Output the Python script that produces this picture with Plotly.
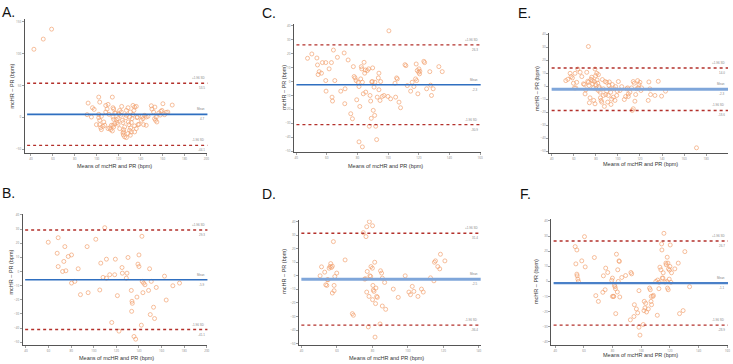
import plotly.graph_objects as go

# ---------------- data ----------------
a_x = [42.7, 51.2, 58.8, 92.1, 91.2, 95.1, 96.1, 97.6, 101.8, 102.7, 101.8, 101.8, 102.7, 99.7, 103.6, 104.2, 105.7,
       108.2, 109.4, 108.2, 110.3, 111.2, 111.8, 112.7, 114.2, 114.8, 115.4, 116.4, 114.8, 115.4, 116.4, 114.8, 114.2,
       119.4, 120.9, 121.8, 122.4, 122.7, 123.3, 123.9, 124.5, 125.4, 124.2, 125.4, 126.4, 127.0, 127.0, 128.5, 128.8,
       129.4, 130.0, 130.6, 130.9, 131.5, 132.1, 133.0, 133.9, 134.5, 134.5, 136.0, 136.7, 137.6, 133.0, 136.0, 137.0,
       130.0, 131.5, 130.6, 134.5, 138.5, 140.6, 142.1, 142.7, 145.1, 143.6, 141.5, 149.7, 150.3, 151.8, 153.0, 154.2,
       154.8, 156.6, 157.9, 158.5, 159.4, 160.3, 161.8, 163.3, 164.8, 168.8, 145.1, 146.7, 152.7, 153.6, 123.9, 127.0,
       128.5, 124.5, 117.9, 118.5, 119.4, 115.4, 113.3, 110.3, 107.3, 106.4, 102.7, 104.2, 117.3, 120.3, 120.9]
a_y = [107.0, 123.0, 138.6, 22.4, 4.2, 0.5, 15.1, 12.5, 31.8, 23.9, 4.7, -0.5, -11.5, -11.5, -16.1, -19.3, -14.1,
       8.3, 13.0, 18.7, 20.3, 4.7, -16.7, -19.3, 31.8, 15.1, 13.0, 6.8, 0.5, -3.1, -9.9, -12.5, -21.4,
       -2.1, -17.7, 3.1, 8.3, 17.2, -4.7, -8.3, -22.9, -30.7, -27.6, -15.1, -0.5, 3.1, 10.9, 15.1, -7.3,
       -11.5, -20.3, 8.3, -16.7, -8.3, -2.1, 18.7, 10.9, -13.5, -22.9, -17.7, -0.5, -11.5, 4.2, 17.2, 0.5,
       0.5, -22.9, -28.1, 16.1, -10.9, -4.7, -2.1, -11.5, -12.5, 3.1, 1.6, 18.2, 13.0, 8.3, 16.1, 0.5,
       -7.3, 6.8, 3.6, 9.4, 10.9, 21.4, 4.2, 7.8, 8.3, 19.3, 0.5, 1.6, -2.1, -4.7, -24.5, -31.8,
       -25.5, -19.3, -3.6, -8.3, -10.9, -15.1, -12.5, -17.7, -12.5, -7.3, -4.7, 1.6, 6.8, 5.2, 10.9]

b_x = [59.7, 67.6, 68.5, 68.5, 72.4, 73.5, 74.4, 75.3, 77.4, 80.3, 80.3, 83.2, 86.2, 88.2, 95.0, 94.1, 101.8, 105.3,
       106.2, 108.2, 109.7, 111.2, 114.1, 118.5, 119.1, 120.9, 115.9, 122.3, 125.0, 125.3, 129.4, 130.3, 133.2, 133.5,
       133.8, 134.1, 135.6, 137.1, 138.2, 139.1, 140.0, 140.0, 142.1, 142.6, 142.9, 143.5, 144.1, 145.3, 148.5, 149.4,
       150.0, 150.9, 152.9, 153.8, 155.3, 162.6, 164.1, 170.0, 175.9, 111.2, 128.8]
b_y = [20.7, 12.9, 23.9, 3.5, 0.0, 7.1, 17.6, 0.5, 10.6, -8.2, 11.7, -7.0, 1.9, -16.4, -15.0, 17.6, 22.8, -13.1,
       5.9, -4.2, 31.0, 8.7, -2.3, -2.3, 8.7, -17.1, -36.1, -42.2, 2.8, -1.2, -1.2, 9.9, -13.4, -28.2,
       -21.1, -22.5, -46.0, -47.9, -18.1, 5.2, 3.5, 11.7, -38.0, 24.9, -7.0, -15.0, -8.2, -9.4, -13.4, 1.9,
       -30.5, -7.0, -25.3, -33.3, -11.3, -3.3, -20.2, -10.1, -8.2, -4.7, -4.7]

c_x = [47.4, 50.2, 53.5, 53.9, 54.3, 55.0, 56.5, 57.1, 59.3, 59.3, 59.5, 61.5, 63.0, 63.4, 63.7, 64.3, 65.2, 66.9,
       69.1, 71.3, 71.9, 71.7, 73.9, 75.6, 76.7, 77.3, 77.8, 78.4, 79.1, 79.5, 80.4, 81.0, 81.5, 82.1, 82.5, 82.8,
       83.8, 84.3, 84.7, 85.1, 85.4, 86.4, 87.3, 87.7, 88.2, 88.6, 89.0, 89.3, 89.7, 89.9, 90.3, 90.8, 91.2, 91.4,
       91.9, 92.9, 93.6, 94.0, 94.7, 95.1, 96.2, 92.5, 81.0, 83.2, 99.9, 100.5, 104.5, 104.9, 105.5, 106.0, 107.1,
       108.1, 111.0, 111.6, 112.5, 114.7, 115.7, 116.8, 117.9, 118.3, 118.6, 119.0, 119.4, 119.9, 120.1, 120.5,
       120.7, 123.3, 123.8, 125.1, 127.2, 127.7, 128.3, 129.4, 133.1, 135.3, 94.0, 83.2, 97.3, 101.6]
c_y = [16.7, 19.8, 16.9, 11.9, 5.0, 7.1, 6.0, 13.6, 13.6, 0.7, -6.9, 9.1, 13.6, -11.2, -14.0, 22.6, 0.7, 17.4,
       -6.9, 20.5, -5.2, -15.9, 15.5, -23.1, -26.7, 10.7, 3.6, 2.6, 0.7, -13.1, -0.5, -3.6, -17.9, 1.9, 10.7, 9.1,
       -8.8, 13.8, 6.0, 8.3, -7.6, 7.9, 9.1, -32.1, -10.0, -14.0, -26.4, -0.2, 0.0, 9.8, -20.7, -4.0, -24.3, -0.5,
       -32.1, -11.2, 2.6, -5.9, -13.6, 0.0, -10.7, -41.7, -43.3, -46.9, -10.7, 36.4, -1.2, -11.2, 2.6, 1.9, -14.8,
       -18.8, 12.1, 11.4, -2.9, -6.9, -0.5, -3.6, 1.9, 12.6, 0.7, 7.9, -8.8, 6.7, 9.1, 5.5,
       7.4, 14.5, 13.6, -5.2, 7.1, -2.6, -10.0, -5.2, 10.7, 7.1, 6.0, -0.5, -10.0, -12.4]

d_x = [50.5, 51.3, 53.1, 53.7, 54.3, 54.6, 55.0, 55.6, 56.1, 56.5, 56.9, 57.4, 57.4, 58.0, 58.4, 58.4, 58.8, 59.9,
       64.6, 68.7, 69.3, 74.9, 75.6, 76.2, 76.4, 76.8, 76.8, 77.1, 77.7, 78.1, 78.3, 78.6, 79.2, 80.0, 80.1, 80.1,
       80.3, 80.5, 80.9, 81.3, 81.5, 81.8, 82.4, 82.8, 84.3, 84.6, 85.2, 85.6, 85.6, 86.9, 87.5, 91.8, 94.6, 98.5,
       100.6, 101.5, 102.5, 103.4, 105.7, 107.7, 108.7, 112.8, 114.7, 115.0, 115.6, 116.9, 118.0, 118.4, 120.9,
       79.0, 82.0]
d_y = [0.0, 6.6, 2.7, -6.6, -7.1, -2.9, -2.9, 5.6, 6.8, 9.0, 6.1, 7.1, -12.7, 25.2, -7.1, -11.0, -0.5, 2.0,
       11.7, -27.9, -29.1, 31.8, -2.4, -2.2, 28.9, 36.2, -12.0, 3.2, -37.7, -15.2, 39.9, 0.0, 6.8, 5.6, 36.9, -17.6,
       -7.1, -10.5, -11.5, 10.0, -45.2, -20.5, -15.2, -15.9, -35.5, 3.7, 2.0, -1.7, -22.3, -4.9, -24.7, -9.8, -15.9, 0.0,
       -12.0, -13.9, -7.8, -11.5, -15.2, -9.8, -12.0, -1.5, -3.7, 10.0, 11.0, 6.8, 5.1, 15.9, 11.0,
       -0.5, -9.0]

e_x = [73.2, 171.3, 52.7, 54.5, 56.6, 57.5, 58.7, 59.6, 60.5, 61.7, 62.6, 63.6, 65.7, 68.7, 69.6, 70.2, 70.8, 71.7,
       72.6, 73.2, 73.8, 74.1, 74.7, 75.6, 76.2, 76.8, 77.1, 77.7, 78.0, 78.6, 79.2, 79.2, 79.8, 79.8, 80.1, 80.8,
       81.1, 81.7, 82.3, 82.3, 82.9, 83.2, 83.8, 84.1, 84.7, 85.3, 85.9, 86.8, 87.7, 88.3, 88.9, 89.8, 90.7, 91.3,
       91.9, 92.2, 92.8, 93.4, 93.7, 94.3, 94.9, 95.8, 96.7, 97.3, 97.9, 98.9, 99.5, 100.4, 105.8, 107.0, 107.9,
       108.8, 109.4, 110.9, 112.4, 113.9, 114.8, 115.4, 116.1, 117.0, 117.9, 118.5, 119.1, 120.0, 120.9, 121.5,
       113.9, 113.0, 127.5, 128.1, 129.0, 129.6, 133.6, 136.6, 139.6, 143.2, 61.1, 67.2, 86.8, 89.8, 109.4, 103.4, 101.9]
e_y = [30.5, -47.3, 4.3, 5.3, 9.9, 7.4, 6.4, 2.3, -1.3, -1.3, 3.0, 13.2, 10.7, 1.8, 1.3, -5.9, -2.8, 10.7,
       3.8, 3.0, 0.5, -12.7, -8.9, 5.3, 6.9, 4.3, 1.8, -1.3, -10.9, 3.6, 13.2, -13.5, 1.3, 8.1, -2.0, 9.9,
       4.8, 2.3, 8.9, -3.3, -0.3, -1.3, -4.6, -8.9, -10.9, -12.2, 5.1, -7.1, -15.5, 3.6, -6.4, 3.0, -12.2, -7.1,
       0.5, 3.3, -2.0, -4.6, -14.0, -9.9, 1.3, -8.4, -2.0, -10.9, -0.3, -7.1, -3.8, 3.6, -10.2, -7.9, -2.0,
       -1.3, -7.9, -4.6, -1.3, 3.6, 2.3, -11.5, -6.4, -2.0, 4.3, -1.3, 1.3, 3.0, -3.3, -1.3,
       -17.3, -18.6, -10.9, 3.3, -2.0, -6.4, -7.1, 3.8, -7.6, -3.8, 9.9, 7.4, -2.0, -3.8, -5.9, -0.3, -3.3]

f_x = [53.9, 54.4, 55.1, 55.1, 55.3, 55.8, 56.2, 58.5, 60.4, 60.9, 67.3, 68.3, 70.1, 73.2, 73.6, 74.8, 75.2, 76.6,
       79.4, 79.9, 79.9, 80.6, 81.3, 81.7, 82.0, 82.2, 82.7, 83.3, 83.6, 84.5, 84.7, 85.0, 86.4, 89.1, 92.4, 92.8,
       93.3, 94.9, 95.2, 96.6, 97.5, 98.4, 98.4, 99.1, 101.4, 101.9, 102.1, 102.6, 103.1, 103.7, 104.9, 105.8, 106.3,
       106.8, 107.0, 107.2, 108.2, 108.4, 110.2, 111.2, 111.4, 112.3, 112.5, 113.0, 113.7, 114.2, 114.4, 114.6, 115.1,
       115.3, 115.8, 116.5, 117.2, 117.4, 117.9, 118.1, 118.3, 118.6, 118.8, 119.0, 119.5, 119.7, 120.0, 120.2, 120.7,
       121.1, 123.4, 125.8, 126.7, 129.2, 130.4, 133.7, 80.8, 84.0]
f_y = [23.0, 11.6, 20.8, 4.8, 3.7, 1.5, 0.0, 13.6, 29.6, 9.6, 15.8, -9.4, -13.2, -7.2, 3.7, -5.5, 8.8, 5.9,
       0.7, 2.2, -9.9, -9.9, -2.6, -3.5, -4.8, -21.3, 18.0, -7.0, 7.7, 13.6, 13.2, -10.3, 2.6, 3.9, -25.4, 5.9,
       5.0, -23.2, -15.4, -18.2, -20.8, -6.1, -30.3, -35.5, -28.5, -19.3, -13.2, -17.5, -14.5, -20.2, -18.2, -4.4, -5.5,
       -13.2, -9.9, -15.4, -9.9, -9.2, 0.0, -22.4, 0.9, -4.8, -0.6, 9.4, 7.7, 24.8, 20.8, 2.2, 2.2,
       5.7, 31.8, -0.4, 12.1, 11.0, 0.0, 16.0, -4.4, 12.1, -5.5, 8.3, 1.5, 7.5, 9.9, 24.1, -0.6,
       5.7, 8.3, 12.1, -21.3, -19.3, 19.7, -3.5, -9.9, 0.0]

# limits of agreement: (upper +1.96 SD, mean, lower -1.96 SD)
a_limits = [53.5, 4.7, -44.1]
b_limits = [29.3, -5.9, -41.1]
c_limits = [26.3, -2.3, -30.9]
d_limits = [31.4, -2.5, -36.4]
e_limits = [14.0, -2.3, -18.6]
f_limits = [26.7, -1.1, -28.9]

# tick values
a_xticks = [40, 60, 80, 100, 120, 140, 160, 180, 200]
a_yticks = [-50, 0, 50, 100, 150]
b_xticks = [40, 60, 80, 100, 120, 140, 160, 180, 200]
b_yticks = [-50, -40, -30, -20, -10, 0, 10, 20, 30, 40]
c_xticks = [40, 60, 80, 100, 120, 140, 160]
c_yticks = [-50, -40, -30, -20, -10, 0, 10, 20, 30, 40]
d_xticks = [40, 60, 80, 100, 120, 140]
d_yticks = [-50, -40, -30, -20, -10, 0, 10, 20, 30, 40]
e_xticks = [40, 60, 80, 100, 120, 140, 160, 180, 200]
e_yticks = [-50, -40, -30, -20, -10, 0, 10, 20, 30, 40]
f_xticks = [40, 60, 80, 100, 120, 140, 160]
f_yticks = [-40, -30, -20, -10, 0, 10, 20, 30, 40]

x_title = "Means of mcHR and PR (bpm)"
y_title = "mcHR – PR (bpm)"

# ---------------- layout / style ----------------
W, H = 733, 364

panels = [
    dict(letter="A.", x=a_x, y=a_y, lim=a_limits, xt=a_xticks, yt=a_yticks,
         px=(25, 208), py=(18, 153), xr=(34.5, 200.9), yr=(-56.3, 154.7),
         ytl=(12, 85), xtl=(115, 166), let=(0, 1), mc="#2f6fc0", mw=1.6),
    dict(letter="B.", x=b_x, y=b_y, lim=b_limits, xt=b_xticks, yt=b_yticks,
         px=(23, 208), py=(214, 346), xr=(37.3, 200.6), yr=(-52.1, 40.8),
         ytl=(11, 272), xtl=(117, 359), let=(0, 183), mc="#2f6fc0", mw=1.6),
    dict(letter="C.", x=c_x, y=c_y, lim=c_limits, xt=c_xticks, yt=c_yticks,
         px=(295, 482), py=(23, 152), xr=(38.7, 160.4), yr=(-50.7, 41.4),
         ytl=(284, 87), xtl=(387, 166), let=(261, 2), mc="#2f6fc0", mw=1.6),
    dict(letter="D.", x=d_x, y=d_y, lim=d_limits, xt=d_xticks, yt=d_yticks,
         px=(300, 482), py=(220, 346), xr=(38.7, 141.1), yr=(-51.1, 41.3),
         ytl=(284, 272), xtl=(388, 359), let=(261, 184), mc="#7fa6da", mw=3),
    dict(letter="E.", x=e_x, y=e_y, lim=e_limits, xt=e_xticks, yt=e_yticks,
         px=(551, 730), py=(32, 153), xr=(37.9, 199.9), yr=(-51.4, 41.0),
         ytl=(538, 88), xtl=(642, 164), let=(517, 2), mc="#7fa6da", mw=3),
    dict(letter="F.", x=f_x, y=f_y, lim=f_limits, xt=f_xticks, yt=f_yticks,
         px=(553, 730), py=(219, 346), xr=(37.4, 160.5), yr=(-42.1, 41.4),
         ytl=(538, 282), xtl=(642, 356), let=(519, 184), mc="#4a80c8", mw=2.2),
]

fig = go.Figure()
shapes, annotations = [], []
layout_axes = {}

loa_color = "#b3302b"
font_family = "Arial, Liberation Sans, sans-serif"
label_font = dict(size=3, color="#888888", family=font_family)

for i, p in enumerate(panels, start=1):
    xa = "x" if i == 1 else f"x{i}"
    ya = "y" if i == 1 else f"y{i}"
    xkey = "xaxis" if i == 1 else f"xaxis{i}"
    ykey = "yaxis" if i == 1 else f"yaxis{i}"

    fig.add_trace(go.Scatter(
        x=p["x"], y=p["y"], mode="markers", xaxis=xa, yaxis=ya, showlegend=False,
        marker=dict(symbol="circle-open", size=4, color="rgba(242,160,110,0.85)",
                    line=dict(width=0.8, color="rgba(242,160,110,0.85)")),
    ))

    common = dict(showline=True, linecolor="#555555", linewidth=1.2, showgrid=False, zeroline=False,
                  ticks="outside", ticklen=2, tickwidth=0.7, tickcolor="#777777",
                  tickfont=dict(size=3, color="#888888"), fixedrange=True)
    layout_axes[xkey] = dict(common, domain=[p["px"][0] / W, p["px"][1] / W], range=list(p["xr"]),
                             tickvals=p["xt"], anchor=ya)
    layout_axes[ykey] = dict(common, domain=[1 - p["py"][1] / H, 1 - p["py"][0] / H], range=list(p["yr"]),
                             tickvals=p["yt"], anchor=xa)

    up, mean, lo = p["lim"]
    for val, col, w, dash in [(up, loa_color, 1.4, "dot"), (lo, loa_color, 1.4, "dot"),
                              (mean, p["mc"], p["mw"], "solid")]:
        shapes.append(dict(type="line", xref=f"{xa} domain", yref=ya, x0=0.012, x1=1.0, y0=val, y1=val,
                           line=dict(color=col, width=w, dash=dash), layer="above"))

    for val, name in [(up, "+1.96 SD"), (mean, "Mean"), (lo, "-1.96 SD")]:
        annotations.append(dict(xref=f"{xa} domain", yref=ya, x=0.995, y=val, text=name, showarrow=False,
                                xanchor="right", yanchor="bottom", yshift=1, font=label_font))
        annotations.append(dict(xref=f"{xa} domain", yref=ya, x=0.995, y=val, text=f"{val:.1f}",
                                showarrow=False, xanchor="right", yanchor="top", yshift=-1, font=label_font))

    # axis titles
    annotations.append(dict(xref="paper", yref="paper", x=p["ytl"][0] / W, y=1 - p["ytl"][1] / H,
                            text=y_title, textangle=-90, showarrow=False, xanchor="center", yanchor="middle",
                            font=dict(size=5.5, color="#333333", family=font_family)))
    annotations.append(dict(xref="paper", yref="paper", x=p["xtl"][0] / W, y=1 - p["xtl"][1] / H,
                            text=x_title, showarrow=False, xanchor="center", yanchor="middle",
                            font=dict(size=5.5, color="#333333", family=font_family)))
    # panel letter
    annotations.append(dict(xref="paper", yref="paper", x=p["let"][0] / W, y=1 - p["let"][1] / H,
                            text=p["letter"], showarrow=False, xanchor="left", yanchor="top",
                            font=dict(size=14, color="#111111", family=font_family)))

fig.update_layout(
    width=W, height=H, margin=dict(l=0, r=0, t=0, b=0),
    paper_bgcolor="white", plot_bgcolor="white",
    shapes=shapes, annotations=annotations, showlegend=False,
    **layout_axes,
)

fig.write_html("out.html", config={"displayModeBar": False, "staticPlot": True},
               post_script="document.body.style.margin='0';document.body.style.overflow='hidden';")
